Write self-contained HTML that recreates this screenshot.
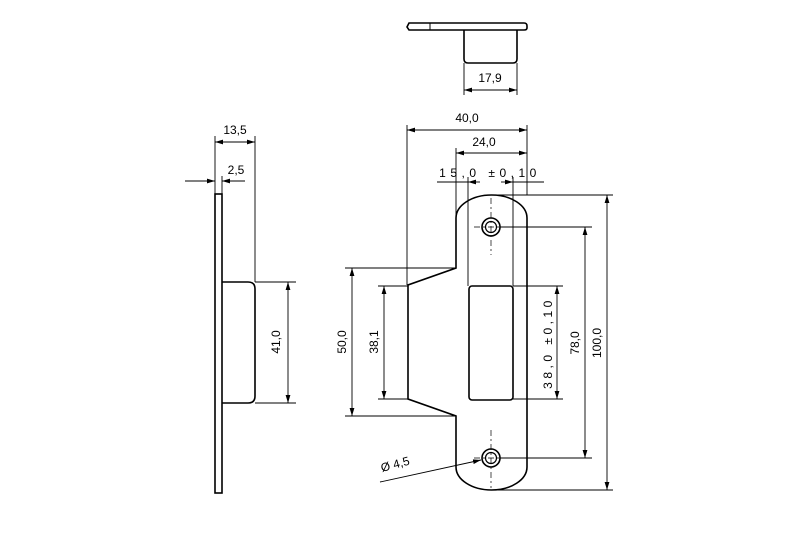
<!DOCTYPE html>
<html><head><style>
html,body{margin:0;padding:0;background:#fff}
svg{display:block}
text{font-family:"Liberation Sans",sans-serif;font-size:12px;fill:#000}
</style></head><body>
<svg width="800" height="533" viewBox="0 0 800 533" xmlns="http://www.w3.org/2000/svg">
<defs>
<marker id="a" viewBox="0 0 10 6" refX="10" refY="3" markerWidth="8" markerHeight="5" orient="auto-start-reverse" markerUnits="userSpaceOnUse"><path d="M0,0L10,3L0,6z" fill="#000"/></marker>
</defs>
<g stroke="#000" fill="none" stroke-width="1.6">
<path d="M409,23 L524,23 Q527,23 527,26 L527,28 Q527,30 524,30 L409,30 L407,27 Z"/>
<line x1="430" y1="23" x2="430" y2="30" stroke-width="1"/>
<path d="M464,30 L464,59 Q464,63 468,63 L513,63 Q517,63 517,59 L517,30"/>
<rect x="215" y="194" width="7" height="299"/>
<path d="M222,282 L248,282 Q255,282 255,289 L255,396 Q255,403 248,403 L222,403"/>
<path d="M456,268 L456,218 A35.5,23 0 0 1 527,218 L527,467 A35.5,23 0 0 1 456,467 L456,416 L408,399 L408,285 Z"/>
<rect x="469" y="286" width="44" height="114" rx="3"/>
<circle cx="491" cy="227" r="9"/><circle cx="491" cy="227" r="5.5" stroke-width="1.2"/>
<circle cx="491" cy="458" r="9"/><circle cx="491" cy="458" r="5.5" stroke-width="1.2"/>
</g>
<g stroke="#000" stroke-width="0.9" fill="none">
<g stroke-dasharray="6,3,2,3" stroke-width="0.7">
<line x1="491" y1="198" x2="491" y2="255"/>
<line x1="491" y1="430" x2="491" y2="488"/>
<line x1="474" y1="227" x2="508" y2="227"/>
<line x1="474" y1="458" x2="508" y2="458"/>
</g>
<line x1="464" y1="63" x2="464" y2="95"/><line x1="517" y1="63" x2="517" y2="95"/>
<line x1="464" y1="90" x2="517" y2="90" marker-start="url(#a)" marker-end="url(#a)"/>
<line x1="407" y1="125" x2="407" y2="285"/><line x1="527" y1="125" x2="527" y2="195"/>
<line x1="407" y1="130" x2="527" y2="130" marker-start="url(#a)" marker-end="url(#a)"/>
<line x1="456" y1="148" x2="456" y2="218"/>
<line x1="456" y1="153" x2="527" y2="153" marker-start="url(#a)" marker-end="url(#a)"/>
<line x1="468" y1="177" x2="468" y2="286"/><line x1="513" y1="177" x2="513" y2="286"/>
<line x1="437" y1="182" x2="468" y2="182"/><line x1="513" y1="182" x2="544" y2="182"/>
<line x1="480" y1="182" x2="468" y2="182" marker-end="url(#a)"/>
<line x1="501" y1="182" x2="513" y2="182" marker-end="url(#a)"/>
<line x1="491" y1="195" x2="613" y2="195"/><line x1="491" y1="490" x2="613" y2="490"/>
<line x1="607" y1="195" x2="607" y2="490" marker-start="url(#a)" marker-end="url(#a)"/>
<line x1="500" y1="227" x2="592" y2="227"/><line x1="500" y1="458" x2="592" y2="458"/>
<line x1="585" y1="227" x2="585" y2="458" marker-start="url(#a)" marker-end="url(#a)"/>
<line x1="513" y1="286" x2="563" y2="286"/><line x1="513" y1="399" x2="563" y2="399"/>
<line x1="557" y1="286" x2="557" y2="399" marker-start="url(#a)" marker-end="url(#a)"/>
<line x1="345" y1="268" x2="456" y2="268"/><line x1="345" y1="416" x2="456" y2="416"/>
<line x1="352" y1="268" x2="352" y2="416" marker-start="url(#a)" marker-end="url(#a)"/>
<line x1="378" y1="286" x2="408" y2="286"/><line x1="378" y1="399" x2="408" y2="399"/>
<line x1="384" y1="286" x2="384" y2="399" marker-start="url(#a)" marker-end="url(#a)"/>
<line x1="380" y1="482" x2="481" y2="460" marker-end="url(#a)"/>
<line x1="215" y1="136" x2="215" y2="194"/><line x1="255" y1="136" x2="255" y2="282"/>
<line x1="215" y1="142" x2="255" y2="142" marker-start="url(#a)" marker-end="url(#a)"/>
<line x1="222" y1="176" x2="222" y2="194"/>
<line x1="185" y1="181" x2="215" y2="181" marker-end="url(#a)"/>
<line x1="245" y1="181" x2="222" y2="181" marker-end="url(#a)"/>
<line x1="255" y1="282" x2="296" y2="282"/><line x1="255" y1="403" x2="296" y2="403"/>
<line x1="288" y1="282" x2="288" y2="403" marker-start="url(#a)" marker-end="url(#a)"/>
</g>
<g>
<text x="490" y="82" text-anchor="middle">17,9</text>
<text x="467" y="122" text-anchor="middle">40,0</text>
<text x="484" y="146" text-anchor="middle">24,0</text>
<text x="490" y="177" text-anchor="middle" letter-spacing="4.5">15,0 ±0,10</text>
<text x="235" y="134" text-anchor="middle">13,5</text>
<text x="236" y="174" text-anchor="middle">2,5</text>
<text transform="translate(280,342) rotate(-90)" text-anchor="middle">41,0</text>
<text transform="translate(346,342) rotate(-90)" text-anchor="middle">50,0</text>
<text transform="translate(378,342) rotate(-90)" text-anchor="middle">38,1</text>
<text transform="translate(552,343) rotate(-90)" text-anchor="middle" letter-spacing="3.5">38,0 ±0,10</text>
<text transform="translate(579,343) rotate(-90)" text-anchor="middle">78,0</text>
<text transform="translate(601,343) rotate(-90)" text-anchor="middle">100,0</text>
<text transform="translate(382,472) rotate(-15)">Ø 4,5</text>
</g>
</svg>
</body></html>
